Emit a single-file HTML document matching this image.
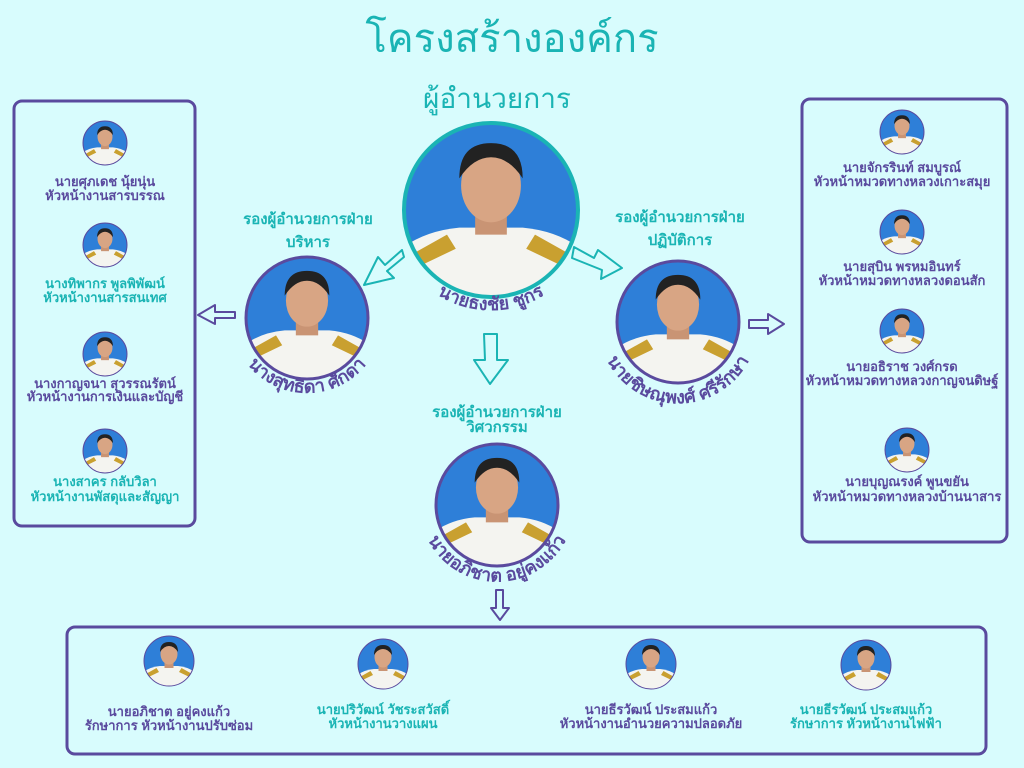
<!DOCTYPE html>
<html><head><meta charset="utf-8"><style>
html,body{margin:0;padding:0;background:#d8fcfd;}
svg{display:block}
text{font-family:"Liberation Sans","DejaVu Sans",sans-serif;font-weight:bold;text-anchor:middle}
.p{fill:#5a4a9e}.t{fill:#1ab4b4}
</style></head><body>
<svg width="1024" height="768" viewBox="0 0 1024 768" xmlns="http://www.w3.org/2000/svg">
<defs>
<clipPath id="cc"><circle cx="0" cy="0" r="50"/></clipPath>
<symbol id="av" viewBox="-50 -50 100 100">
<g clip-path="url(#cc)">
<rect x="-50" y="-50" width="100" height="100" fill="#2e7fd8"/>
<path d="M-60 60 L-55 25 Q-40 12 -18 10 L18 10 Q40 12 55 25 L60 60Z" fill="#f4f4f0"/>
<path d="M-50 28 L-25 14 L-20 22 L-45 34Z M50 28 L25 14 L20 22 L45 34Z" fill="#c9a030"/>
<rect x="-9" y="0" width="18" height="14" fill="#c99474"/>
<ellipse cx="0" cy="-14" rx="17" ry="21" fill="#d8a584"/>
<path d="M-18 -18 Q-18 -38 0 -38 Q18 -38 18 -18 Q10 -30 0 -30 Q-10 -30 -18 -18Z" fill="#222"/>
</g>
</symbol>
</defs>
<rect width="1024" height="768" fill="#d8fcfd"/>
<text x="512" y="52" class="t" font-size="40" style="font-weight:normal">โครงสร้างองค์กร</text>
<text x="497" y="108" class="t" font-size="28" style="font-weight:normal">ผู้อำนวยการ</text>

<rect x="14" y="101" width="181" height="425" rx="8" fill="none" stroke="#5a4a9e" stroke-width="3"/>
<rect x="802" y="99" width="205" height="443" rx="8" fill="none" stroke="#5a4a9e" stroke-width="3"/>
<rect x="67" y="627" width="919" height="127" rx="8" fill="none" stroke="#5a4a9e" stroke-width="3"/>

<use href="#av" x="403" y="122" width="176" height="176"/>
<circle cx="491" cy="210" r="87" fill="none" stroke="#1ab4b4" stroke-width="4"/>
<path id="a1" d="M414 274 A100 100 0 0 0 568 274" fill="none"/>
<text class="p" font-size="18"><textPath href="#a1" startOffset="50%">นายธงชัย ชูกร</textPath></text>

<text x="308" y="224" class="t" font-size="15">รองผู้อำนวยการฝ่าย</text>
<text x="308" y="247" class="t" font-size="15">บริหาร</text>
<use href="#av" x="245" y="256" width="124" height="124"/>
<circle cx="307" cy="318" r="61" fill="none" stroke="#5a4a9e" stroke-width="3"/>
<path id="a2" d="M234 338 A76 76 0 0 0 380 338" fill="none"/>
<text class="p" font-size="18"><textPath href="#a2" startOffset="50%">นางสุทธิดา ศักดา</textPath></text>

<text x="680" y="222" class="t" font-size="15">รองผู้อำนวยการฝ่าย</text>
<text x="680" y="245" class="t" font-size="15">ปฏิบัติการ</text>
<use href="#av" x="616" y="260" width="124" height="124"/>
<circle cx="678" cy="322" r="61" fill="none" stroke="#5a4a9e" stroke-width="3"/>
<path id="a3" d="M599 336 A80 80 0 0 0 757 336" fill="none"/>
<text class="p" font-size="18"><textPath href="#a3" startOffset="50%">นายชิษณุพงศ์ ศรีรักษา</textPath></text>

<text x="497" y="417" class="t" font-size="15">รองผู้อำนวยการฝ่าย</text>
<text x="497" y="432" class="t" font-size="15">วิศวกรรม</text>
<use href="#av" x="435" y="443" width="124" height="124"/>
<circle cx="497" cy="505" r="61" fill="none" stroke="#5a4a9e" stroke-width="3"/>
<path id="a4" d="M422 525 A78 78 0 0 0 572 525" fill="none"/>
<text class="p" font-size="18"><textPath href="#a4" startOffset="50%">นายอภิชาต อยู่คงแก้ว</textPath></text>

<g fill="none" stroke-width="2" stroke-linejoin="round">
<path d="M402 250 L385 265 L378 257 L364 285 L394 278 L387 271 L404 257Z" stroke="#1ab4b4"/>
<path d="M574 247 L594 258 L598 250 L622 268 L601 279 L602 270 L572 258Z" stroke="#1ab4b4"/>
<path d="M484 334 L497 334 L497 360 L508 360 L490 384 L474 360 L485 360Z" stroke="#1ab4b4"/>
<path d="M235 312 L215 312 L215 305 L198 315 L215 324 L215 318 L235 318Z" stroke="#5a4a9e"/>
<path d="M749 320 L768 320 L768 314 L784 324 L768 334 L768 328 L749 328Z" stroke="#5a4a9e"/>
<path d="M496 590 L503 590 L503 608 L509 608 L500 620 L491 608 L496 608Z" stroke="#5a4a9e"/>
</g>

<g>
<use href="#av" x="83" y="121" width="44" height="44"/><circle cx="105" cy="143" r="22" fill="none" stroke="#5a4a9e" stroke-width="1"/>
<text x="105" y="186" class="p" font-size="13">นายศุภเดช นุ้ยนุ่น</text>
<text x="105" y="200" class="p" font-size="13">หัวหน้างานสารบรรณ</text>
<use href="#av" x="83" y="223" width="44" height="44"/><circle cx="105" cy="245" r="22" fill="none" stroke="#5a4a9e" stroke-width="1"/>
<text x="105" y="288" class="t" font-size="13">นางทิพากร พูลพิพัฒน์</text>
<text x="105" y="302" class="t" font-size="13">หัวหน้างานสารสนเทศ</text>
<use href="#av" x="83" y="332" width="44" height="44"/><circle cx="105" cy="354" r="22" fill="none" stroke="#5a4a9e" stroke-width="1"/>
<text x="105" y="388" class="p" font-size="13">นางกาญจนา สุวรรณรัตน์</text>
<text x="105" y="401" class="p" font-size="13">หัวหน้างานการเงินและบัญชี</text>
<use href="#av" x="83" y="429" width="44" height="44"/><circle cx="105" cy="451" r="22" fill="none" stroke="#5a4a9e" stroke-width="1"/>
<text x="105" y="486" class="t" font-size="13">นางสาคร กลับวิลา</text>
<text x="105" y="501" class="t" font-size="13">หัวหน้างานพัสดุและสัญญา</text>
</g>

<g>
<use href="#av" x="880" y="110" width="44" height="44"/><circle cx="902" cy="132" r="22" fill="none" stroke="#5a4a9e" stroke-width="1"/>
<text x="902" y="172" class="p" font-size="13">นายจักรรินท์ สมบูรณ์</text>
<text x="902" y="186" class="p" font-size="13">หัวหน้าหมวดทางหลวงเกาะสมุย</text>
<use href="#av" x="880" y="210" width="44" height="44"/><circle cx="902" cy="232" r="22" fill="none" stroke="#5a4a9e" stroke-width="1"/>
<text x="902" y="271" class="p" font-size="13">นายสุบิน พรหมอินทร์</text>
<text x="902" y="285" class="p" font-size="13">หัวหน้าหมวดทางหลวงดอนสัก</text>
<use href="#av" x="880" y="309" width="44" height="44"/><circle cx="902" cy="331" r="22" fill="none" stroke="#5a4a9e" stroke-width="1"/>
<text x="902" y="371" class="p" font-size="13">นายอธิราช วงศ์กรด</text>
<text x="902" y="385" class="p" font-size="13">หัวหน้าหมวดทางหลวงกาญจนดิษฐ์</text>
<use href="#av" x="885" y="428" width="44" height="44"/><circle cx="907" cy="450" r="22" fill="none" stroke="#5a4a9e" stroke-width="1"/>
<text x="907" y="486" class="p" font-size="13">นายบุญณรงค์ พูนขยัน</text>
<text x="907" y="501" class="p" font-size="13">หัวหน้าหมวดทางหลวงบ้านนาสาร</text>
</g>

<g>
<use href="#av" x="144" y="636" width="50" height="50"/><circle cx="169" cy="661" r="25" fill="none" stroke="#5a4a9e" stroke-width="1"/>
<text x="169" y="716" class="p" font-size="13">นายอภิชาต อยู่คงแก้ว</text>
<text x="169" y="730" class="p" font-size="13">รักษาการ หัวหน้างานปรับซ่อม</text>
<use href="#av" x="358" y="639" width="50" height="50"/><circle cx="383" cy="664" r="25" fill="none" stroke="#5a4a9e" stroke-width="1"/>
<text x="383" y="714" class="t" font-size="13">นายปริวัฒน์ วัชระสวัสดิ์</text>
<text x="383" y="728" class="t" font-size="13">หัวหน้างานวางแผน</text>
<use href="#av" x="626" y="639" width="50" height="50"/><circle cx="651" cy="664" r="25" fill="none" stroke="#5a4a9e" stroke-width="1"/>
<text x="651" y="714" class="p" font-size="13">นายธีรวัฒน์ ประสมแก้ว</text>
<text x="651" y="728" class="p" font-size="13">หัวหน้างานอำนวยความปลอดภัย</text>
<use href="#av" x="841" y="640" width="50" height="50"/><circle cx="866" cy="665" r="25" fill="none" stroke="#5a4a9e" stroke-width="1"/>
<text x="866" y="714" class="t" font-size="13">นายธีรวัฒน์ ประสมแก้ว</text>
<text x="866" y="728" class="t" font-size="13">รักษาการ หัวหน้างานไฟฟ้า</text>
</g>
</svg>
</body></html>
